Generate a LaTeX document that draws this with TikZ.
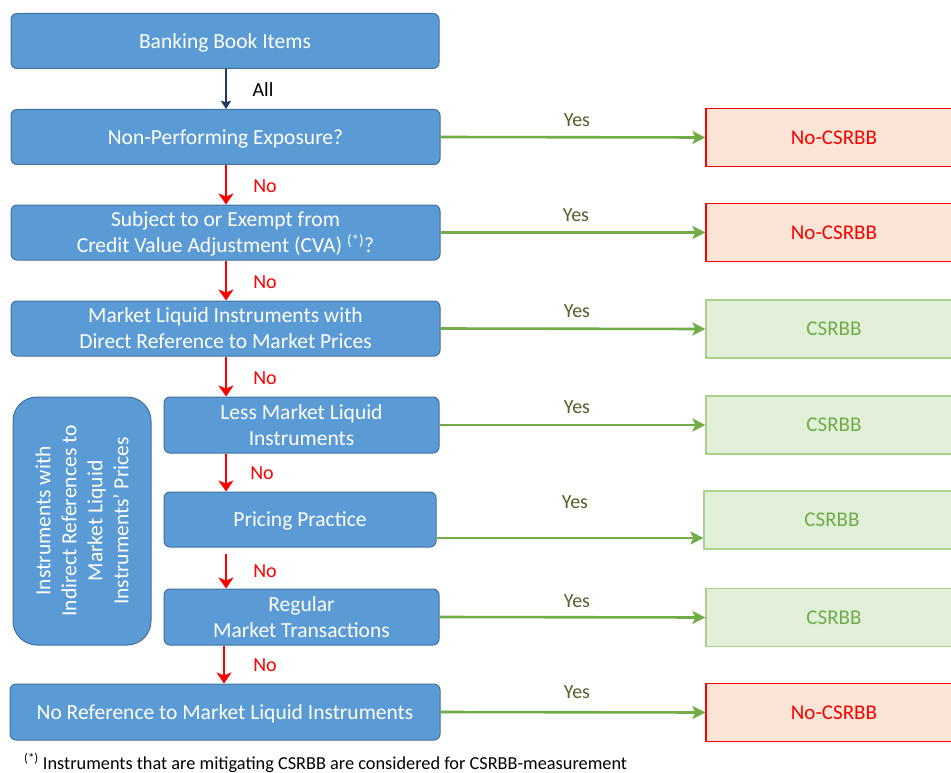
\documentclass[tikz,border=0pt]{standalone}
\usepackage{fontspec}
\setmainfont{Carlito}
\usetikzlibrary{arrows.meta}
\definecolor{bfill}{HTML}{5B9BD5}
\definecolor{bdraw}{HTML}{41719C}
\definecolor{navy}{HTML}{1F3864}
\definecolor{myred}{HTML}{FF0000}
\definecolor{rfill}{HTML}{FBE5D6}
\definecolor{mygreen}{HTML}{70AD47}
\definecolor{gfill}{HTML}{E2F0D9}
\definecolor{gdraw}{HTML}{A9D18E}
\definecolor{yescol}{HTML}{4F6228}
\tikzset{
  bluebox/.style={draw=bdraw, fill=bfill, line width=1pt, rounded corners=6pt, text=white, align=center, inner sep=2pt, text depth=0pt, font=\fontsize{21.5}{26}\selectfont},
  nobox/.style={draw=myred, fill=rfill, line width=1.2pt, text=myred, minimum width=256pt, minimum height=58pt, font=\fontsize{21}{26}\selectfont},
  yesbox/.style={draw=gdraw, fill=gfill, line width=1.2pt, text=mygreen, minimum width=256pt, minimum height=58pt, font=\fontsize{21}{26}\selectfont},
  redarrow/.style={draw=myred, line width=2.4pt, -{Stealth[length=11pt,width=15pt,inset=3pt]}},
  greenarrow/.style={draw=mygreen, line width=2.6pt, -{Stealth[length=13pt,width=13pt,inset=3pt]}},
  navyarrow/.style={draw=navy, line width=2.4pt, -{Stealth[length=8pt,width=10pt,inset=1pt]}},
  nolabel/.style={text=myred, font=\fontsize{20}{24}\selectfont},
  yeslabel/.style={text=yescol, font=\fontsize{20}{24}\selectfont},
  alllabel/.style={text=black, font=\fontsize{20}{24}\selectfont}
}
\begin{document}
\begin{tikzpicture}[x=1pt,y=-1pt]
\clip (0,0) rectangle (951,773);
\fill[white] (0,0) rectangle (951,773);
% blue boxes
\node[bluebox, minimum width=428pt, minimum height=55pt] (b0) at (225,41) {Banking Book Items};
\node[bluebox, minimum width=429pt, minimum height=55pt] (b1) at (225.5,137) {Non-Performing Exposure?};
\node[bluebox, minimum width=429pt, minimum height=55pt] (b2) at (225.5,232.5) {Subject to or Exempt from\\Credit Value Adjustment (CVA) \textsuperscript{(*)}?};
\node[bluebox, minimum width=429pt, minimum height=55pt] (b3) at (225.5,328.5) {Market Liquid Instruments with\\Direct Reference to Market Prices};
\node[bluebox, minimum width=248pt, minimum height=138pt, rounded corners=24pt, rotate=90] (side) at (82,521) {Instruments with\\Indirect References to\\Market Liquid\\Instruments' Prices};
\node[bluebox, minimum width=275pt, minimum height=56pt] (b4) at (301.5,425) {Less Market Liquid\\Instruments};
\node[bluebox, minimum width=272pt, minimum height=55pt] (b5) at (300,519.5) {Pricing Practice};
\node[bluebox, minimum width=275pt, minimum height=56pt] (b6) at (301.5,617) {Regular\\Market Transactions};
\node[bluebox, minimum width=430pt, minimum height=56pt] (b7) at (225,712) {No Reference to Market Liquid Instruments};
% result boxes
\node[nobox] (r1) at (834,137.5) {No-CSRBB};
\node[nobox] (r2) at (834,232.5) {No-CSRBB};
\node[yesbox] (r3) at (834,329) {CSRBB};
\node[yesbox] (r4) at (834,425) {CSRBB};
\node[yesbox] (r5) at (832,520) {CSRBB};
\node[yesbox] (r6) at (834,617.5) {CSRBB};
\node[nobox] (r7) at (834,712.5) {No-CSRBB};
% vertical arrows
\coordinate (ax) at (226,0);
\coordinate (ax6) at (224,0);
\draw[navyarrow] (b0.south -| ax) -- (b1.north -| ax);
\draw[redarrow] (b1.south -| ax) -- (b2.north -| ax);
\draw[redarrow] (b2.south -| ax) -- (b3.north -| ax);
\draw[redarrow] (b3.south -| ax) -- (b4.north -| ax);
\draw[redarrow] (b4.south -| ax) -- (b5.north -| ax);
\draw[redarrow, shorten <=6pt] (b5.south -| ax) -- (b6.north -| ax);
\draw[redarrow] (b6.south -| ax6) -- (b7.north -| ax6);
% vertical labels
\node[alllabel] (lall) at (263,90) {All};
\node[nolabel] (ln1) at (265,186) {No};
\node[nolabel] (ln2) at (265,282) {No};
\node[nolabel] (ln3) at (265,378) {No};
\node[nolabel] (ln4) at (262,473) {No};
\node[nolabel] (ln5) at (265,571) {No};
\node[nolabel] (ln6) at (265,665) {No};
% horizontal arrows
\draw[greenarrow] (b1.east) -- (r1.west);
\draw[greenarrow] (b2.east) -- (r2.west);
\draw[greenarrow] (b3.east) -- (r3.west);
\draw[greenarrow] (b4.east) -- (r4.west);
\coordinate (py) at (0,538);
\draw[greenarrow] (b5.east |- py) -- (r5.west |- py);
\draw[greenarrow] (b6.east) -- (r6.west);
\draw[greenarrow] (b7.east) -- (r7.west);
% yes labels
\node[yeslabel] (ly1) at (577,120) {Yes};
\node[yeslabel] (ly2) at (576,215) {Yes};
\node[yeslabel] (ly3) at (577,311) {Yes};
\node[yeslabel] (ly4) at (577,407) {Yes};
\node[yeslabel] (ly5) at (575,502) {Yes};
\node[yeslabel] (ly6) at (577,601) {Yes};
\node[yeslabel] (ly7) at (577,692) {Yes};
% footnote
\node[anchor=west, inner sep=0pt, font=\fontsize{18.3}{21}\selectfont] (fn) at (24,763) {\textsuperscript{(*)} Instruments that are mitigating CSRBB are considered for CSRBB-measurement};
\end{tikzpicture}
\end{document}
